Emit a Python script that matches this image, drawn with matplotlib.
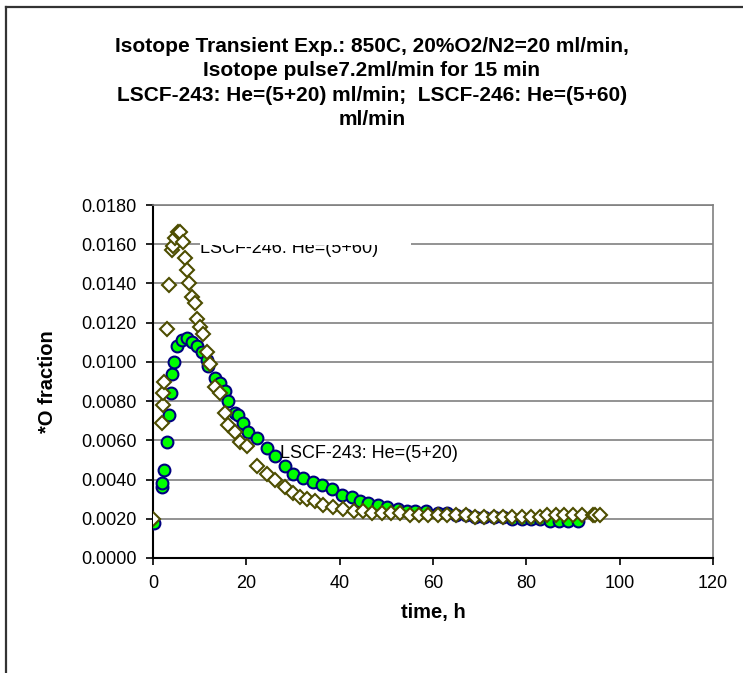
import matplotlib
matplotlib.use("Agg")
import matplotlib.pyplot as plt
from matplotlib.patches import Rectangle
from matplotlib.lines import Line2D

plt.rcParams['font.family'] = ['Liberation Sans', 'DejaVu Sans']

# LSCF-243: He=(5+20)
t_243 = [0.2, 1.9, 1.9, 2.4, 3.0, 3.4, 3.9, 4.1, 4.5, 5.2, 6.2, 7.3, 8.4, 9.4,
         10.5, 11.6, 11.8, 13.3, 14.4, 15.5, 16.1, 17.6, 18.2, 19.3, 20.4, 22.3,
         24.5, 26.2, 28.3, 30.0, 32.2, 34.3, 36.3, 38.4, 40.6, 42.7, 44.4, 46.1,
         48.3, 50.2, 52.4, 54.5, 56.2, 58.4, 61.0, 63.0, 65.0, 67.0, 69.0, 71.0,
         73.0, 75.0, 77.0, 79.0, 81.0, 83.0, 85.0, 87.0, 89.0, 91.0]
o_243 = [0.0018, 0.0036, 0.0038, 0.0045, 0.0059, 0.0073, 0.0084, 0.0094, 0.0100,
         0.0108, 0.0111, 0.0112, 0.0110, 0.0108, 0.0105, 0.0101, 0.0098, 0.0092,
         0.0089, 0.0085, 0.0080, 0.0074, 0.0073, 0.0069, 0.0064, 0.0061, 0.0056,
         0.0052, 0.0047, 0.0043, 0.0041, 0.0039, 0.0037, 0.0035, 0.0032, 0.0031,
         0.0029, 0.0028, 0.0027, 0.0026, 0.0025, 0.0024, 0.0024, 0.0024, 0.0023,
         0.0023, 0.0022, 0.0022, 0.0021, 0.0021, 0.0021, 0.0021, 0.0020, 0.0020,
         0.0020, 0.0020, 0.0019, 0.0019, 0.0019, 0.0019]

# LSCF-246: He=(5+60)
t_246 = [0.0, 2.0, 2.1, 2.2, 2.4, 3.0, 3.4, 4.0, 4.3, 4.7, 5.4, 5.8, 6.4, 6.9,
         7.3, 7.7, 8.4, 9.0, 9.4, 10.1, 10.7, 11.6, 12.2, 13.3, 14.4, 15.5, 16.1,
         17.6, 18.7, 20.2, 22.3, 24.5, 26.2, 28.3, 30.0, 31.5, 33.0, 34.8, 36.5,
         38.6, 40.8, 43.0, 45.0, 47.0, 49.0, 51.0, 53.0, 55.0, 57.0, 59.0, 61.0,
         63.0, 65.0, 67.0, 69.0, 71.0, 73.0, 75.0, 77.0, 79.0, 81.0, 83.0, 84.5,
         86.3, 88.0, 90.0, 92.0, 94.2, 94.8, 95.7]
o_246 = [0.0020, 0.0069, 0.0078, 0.0084, 0.0090, 0.0117, 0.0139, 0.0157, 0.0159,
         0.0163, 0.0166, 0.0166, 0.0161, 0.0153, 0.0147, 0.0140, 0.0133, 0.0130,
         0.0122, 0.0118, 0.0114, 0.0105, 0.0099, 0.0087, 0.0084, 0.0074, 0.0068,
         0.0064, 0.0059, 0.0057, 0.0047, 0.0043, 0.0040, 0.0036, 0.0033, 0.0031,
         0.0030, 0.0029, 0.0027, 0.0026, 0.0025, 0.0024, 0.0024, 0.0023, 0.0023,
         0.0023, 0.0023, 0.0022, 0.0022, 0.0022, 0.0022, 0.0022, 0.0022, 0.0022,
         0.0021, 0.0021, 0.0021, 0.0021, 0.0021, 0.0021, 0.0021, 0.0021, 0.0022,
         0.0022, 0.0022, 0.0022, 0.0022, 0.0022, 0.0022, 0.0022]

x_ticks = [0, 20, 40, 60, 80, 100, 120]
y_ticks = [0.0, 0.002, 0.004, 0.006, 0.008, 0.010, 0.012, 0.014, 0.016, 0.018]

title = ("Isotope Transient Exp.: 850C, 20%O2/N2=20 ml/min,\n"
         "Isotope pulse7.2ml/min for 15 min\n"
         "LSCF-243: He=(5+20) ml/min;  LSCF-246: He=(5+60)\n"
         "ml/min")

fig = plt.figure(figsize=(7.43, 6.73), dpi=100)
ax = fig.add_axes([153 / 743, 1 - 558 / 673, 560 / 743, 353 / 673])

ax.plot(t_243, o_243, linestyle='none', marker='o', markersize=8.5,
        markerfacecolor='#00ff00', markeredgecolor='#000080',
        markeredgewidth=1.5, zorder=3)
ax.plot(t_246, o_246, linestyle='none', marker='D', markersize=7,
        markerfacecolor='white', markeredgecolor='#4d4d00',
        markeredgewidth=1.5, zorder=4)

ax.set_xlim(0, 120)
ax.set_ylim(0, 0.018)
ax.set_xticks(x_ticks)
ax.set_yticks(y_ticks)
ax.set_yticklabels(['%.4f' % v for v in y_ticks])
ax.tick_params(labelsize=13, length=5, width=1.2, pad=7, color='black')
ax.grid(axis='y', color='#808080', linewidth=1.2)
ax.set_axisbelow(True)
for s in ['left', 'bottom']:
    ax.spines[s].set_color('black')
    ax.spines[s].set_linewidth(1.5)
for s in ['right', 'top']:
    ax.spines[s].set_color('#808080')
    ax.spines[s].set_linewidth(1.2)

ax.set_xlabel('time, h', fontsize=14.5, fontweight='bold', labelpad=8)
ax.set_ylabel('*O fraction', fontsize=14.5, fontweight='bold', labelpad=17)

# series labels (upper label is partly hidden in the original)
ax.text(10.1, 0.01555, 'LSCF-246: He=(5+60)', fontsize=13, va='baseline', zorder=5)
ax.add_patch(Rectangle((10.0, 0.01597), 45.2, 0.0006, facecolor='white',
                       edgecolor='none', zorder=6))
ax.text(27.3, 0.0051, 'LSCF-243: He=(5+20)', fontsize=13, va='baseline', zorder=5)

fig.text(372 / 743, 1 - 37 / 673, title, ha='center', va='top', fontsize=15,
         fontweight='bold', linespacing=1.36)

# chart frame
fig.add_artist(Line2D([6 / 743, 1.0], [1 - 7 / 673, 1 - 7 / 673],
                      color='#333333', linewidth=1.6))
fig.add_artist(Line2D([6 / 743, 6 / 743], [0.0, 1 - 7 / 673],
                      color='#333333', linewidth=1.6))

plt.savefig("out.png", dpi=100)
